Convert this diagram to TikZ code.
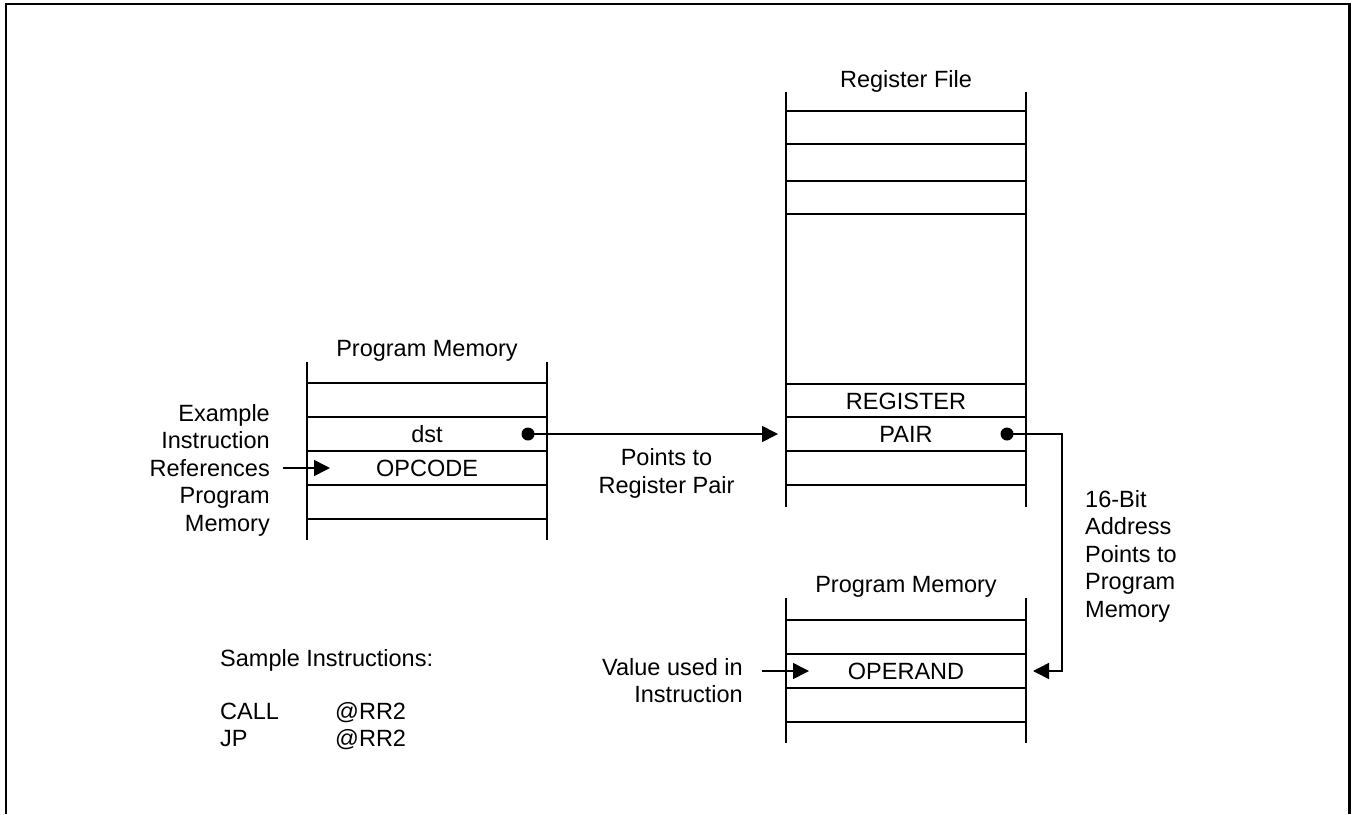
\documentclass[tikz,border=0pt]{standalone}
\usepackage{fontspec}
\setmainfont{Liberation Sans}
\usetikzlibrary{arrows.meta}
\begin{document}
\begin{tikzpicture}[x=1pt,y=-1pt,
  memline/.style={line width=1.6pt},
  frame/.style={line width=2.5pt},
  lbl/.style={font=\fontsize{23.5}{27.5}\selectfont, inner sep=0pt},
  arr/.style={line width=1.6pt, -{Triangle[length=16pt,width=16pt]}},
  conn/.style={line width=1.6pt},
  dotn/.style={circle, fill=black, inner sep=0pt, minimum size=13pt}]
\useasboundingbox (0,0) rectangle (1356,814);
\draw[frame] (6,814) -- (6,4) -- (1349.5,4) -- (1349.5,814);

% left program memory
\draw[memline] (307,362) -- (307,540) (547,362) -- (547,540);
\foreach \yy in {383,417,451,485,519} \draw[memline] (307,\yy) -- (547,\yy);
\node[lbl,anchor=base] (pm1) at (427,356) {Program Memory};
\node[lbl,anchor=base] (dst) at (427,442.5) {dst};
\node[lbl,anchor=base] (opc) at (427,476.5) {OPCODE};

% register file
\draw[memline] (786,92) -- (786,507) (1026,92) -- (1026,507);
\foreach \yy in {111,144,181,214,384,417,451,485} \draw[memline] (786,\yy) -- (1026,\yy);
\node[lbl,anchor=base] (rf) at (906,87) {Register File};
\node[lbl,anchor=base] (reg) at (906,409) {REGISTER};
\node[lbl,anchor=base] (pair) at (906,442.5) {PAIR};

% lower program memory
\draw[memline] (786,598) -- (786,743) (1026,598) -- (1026,743);
\foreach \yy in {620,654,688,722} \draw[memline] (786,\yy) -- (1026,\yy);
\node[lbl,anchor=base] (pm2) at (906,592) {Program Memory};
\node[lbl,anchor=base] (opnd) at (906,679.5) {OPERAND};

% side labels
\node[lbl,anchor=north east,align=right] (ex) at (270,404)
  {\rule{0pt}{17pt}Example\\Instruction\\References\\Program\\Memory};
\node[lbl,anchor=north,align=center] (ptr) at (666.5,448.5)
  {\rule{0pt}{17pt}Points to\\Register Pair};
\node[lbl,anchor=north west,align=left] (addr) at (1085,490)
  {\rule{0pt}{17pt}16-Bit\\Address\\Points to\\Program\\Memory};
\node[lbl,anchor=north east,align=right] (val) at (743,658)
  {\rule{0pt}{17pt}Value used in\\Instruction};

% sample instructions
\node[lbl,anchor=base west] (samp) at (220,666) {Sample Instructions:};
\node[lbl,anchor=base west] (call) at (220,719) {CALL};
\node[lbl,anchor=base west] (jp) at (220,746) {JP};
\node[lbl,anchor=base west] (rr1) at (335,719) {@RR2};
\node[lbl,anchor=base west] (rr2) at (335,746) {@RR2};

% connectors
\coordinate (refsrc) at (283,468);
\coordinate (opcin) at (330,468);
\draw[arr] (refsrc) -- (opcin);

\node[dotn] (d1) at (528,434) {};
\coordinate (rfin) at (778,434);
\draw[arr] (d1.center) -- (rfin);

\node[dotn] (d2) at (1007,434) {};
\coordinate (c1) at (1062,434);
\coordinate (c2) at (1062,671);
\coordinate (opin) at (1033,671);
\draw[arr] (d2.center) -- (c1) -- (c2) -- (opin);

\coordinate (valsrc) at (762,671);
\coordinate (valin) at (809,671);
\draw[arr] (valsrc) -- (valin);
\end{tikzpicture}
\end{document}
